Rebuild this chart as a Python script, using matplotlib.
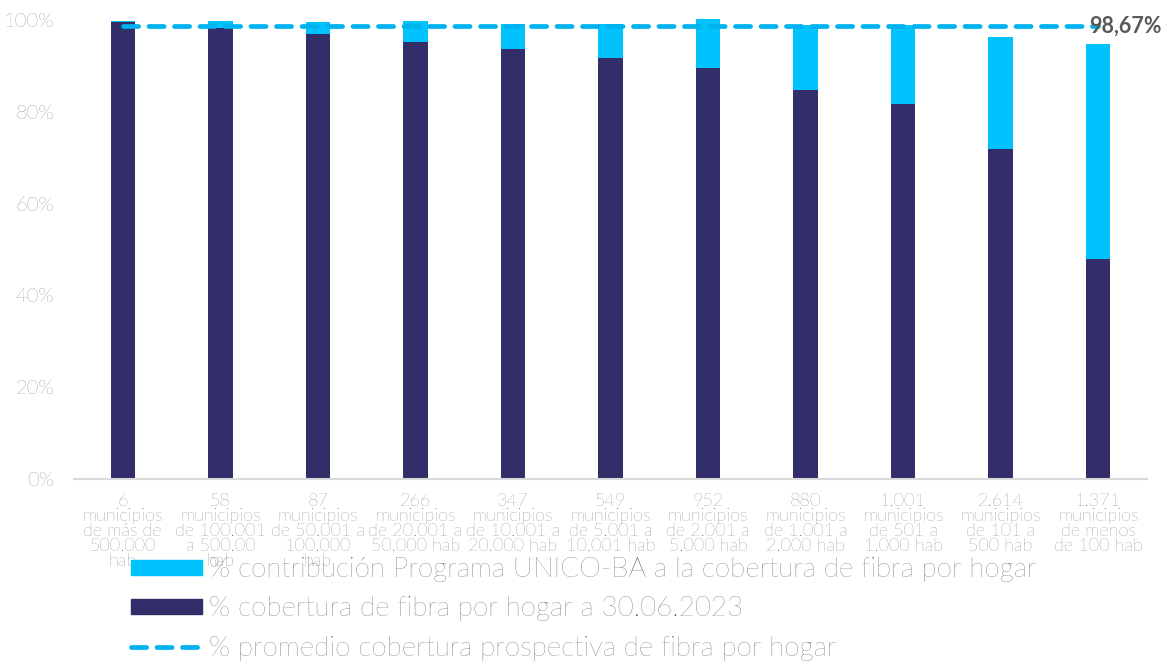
import numpy as np
import matplotlib.pyplot as plt
from matplotlib.patches import Patch
from matplotlib.lines import Line2D
from matplotlib.ticker import PercentFormatter

plt.rcParams['font.family'] = ['Lato', 'DejaVu Sans']

labels = ["6\nmunicipios\nde más de\n500.000\nhab",
          "58\nmunicipios\nde 100.001\na 500.00\nhab",
          "87\nmunicipios\nde 50.001 a\n100.000\nhab",
          "266\nmunicipios\nde 20.001 a\n50.000 hab",
          "347\nmunicipios\nde 10.001 a\n20.000 hab",
          "549\nmunicipios\nde 5.001 a\n10.001 hab",
          "952\nmunicipios\nde 2.001 a\n5.000 hab",
          "880\nmunicipios\nde 1.001 a\n2.000 hab",
          "1.001\nmunicipios\nde 501 a\n1.000 hab",
          "2.614\nmunicipios\nde 101 a\n500 hab",
          "1.371\nmunicipios\nde menos\nde 100 hab"]

# cobertura actual (30.06.2023) y cobertura total con UNICO-BA
cobertura = [0.996, 0.983, 0.970, 0.953, 0.937, 0.918, 0.896, 0.848, 0.818, 0.719, 0.479]
total = [0.998, 0.997, 0.996, 0.998, 0.991, 0.991, 1.002, 0.989, 0.989, 0.964, 0.948]
promedio = 0.9867

contribucion = [t - c for t, c in zip(total, cobertura)]

c_dark = '#312e6a'
c_cyan = '#00c3fd'
c_line = '#00b2ee'
c_text = '#4f4f4f'

fig = plt.figure(figsize=(11.73, 6.64), dpi=100)
ax = fig.add_axes([74 / 1173, 1 - 479 / 664, (1147 - 74) / 1173, (479 - 20) / 664])

x = np.arange(len(labels))
ax.bar(x, cobertura, width=0.25, color=c_dark, clip_on=False)
ax.bar(x, contribucion, width=0.25, bottom=cobertura, color=c_cyan, clip_on=False)
ax.plot([x[0], x[-1]], [promedio, promedio], color=c_line, lw=3.4,
        ls=(0, (3.2, 2.2)), dash_capstyle='round', clip_on=False)
ax.text(x[-1] + 0.28, promedio, "98,67%", ha='center', va='center',
        fontsize=15.5, fontweight='bold', color='#595959')

ax.set_xlim(-0.5, len(labels) - 0.5)
ax.set_ylim(0, 1)
ax.set_yticks(np.arange(0, 1.01, 0.2))
ax.yaxis.set_major_formatter(PercentFormatter(1.0, decimals=0))
ax.set_xticks(x)
ax.set_xticklabels(labels, fontsize=13, color=c_text, linespacing=0.93, fontweight='light')
for t in ax.get_yticklabels():
    t.set_fontweight('light')
ax.tick_params(axis='both', length=0, colors=c_text)
ax.tick_params(axis='y', labelsize=14.5, pad=14)
ax.tick_params(axis='x', pad=10)
for s in ['top', 'right', 'left']:
    ax.spines[s].set_visible(False)
ax.spines['bottom'].set_color('#d9d9d9')
ax.spines['bottom'].set_linewidth(1.5)

handles = [Patch(color=c_cyan), Patch(color=c_dark),
           Line2D([], [], color=c_line, lw=3.4, ls=(0, (3.2, 2.2)), dash_capstyle='round')]
names = ["% contribución Programa UNICO-BA a la cobertura de fibra por hogar",
         "% cobertura de fibra por hogar a 30.06.2023",
         "% promedio cobertura prospectiva de fibra por hogar"]
leg = fig.legend(handles, names, loc='upper left', bbox_to_anchor=(106 / 1173, 1 - 532 / 664),
                 frameon=False, prop={'size': 20, 'weight': 'light'},
                 handlelength=2.55, handleheight=0.45, labelspacing=0.52,
                 handletextpad=0.26, labelcolor='#4a4a4a')

fig.savefig('out.png', dpi=100)
